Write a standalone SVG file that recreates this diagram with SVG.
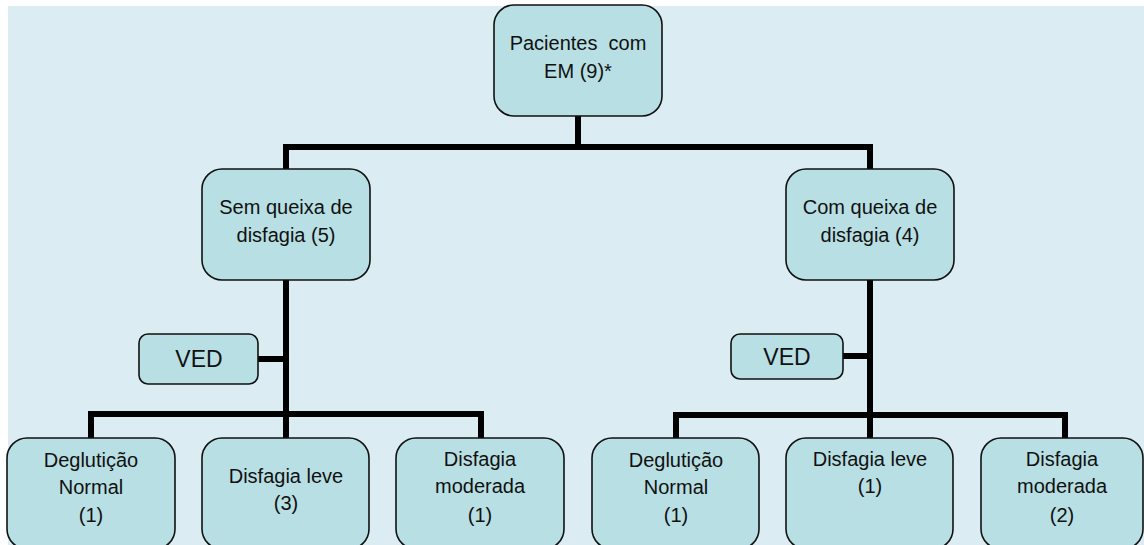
<svg xmlns="http://www.w3.org/2000/svg" width="1144" height="545" viewBox="0 0 1144 545">
<style>
.node{fill:#b8dfe3;stroke:#111;stroke-width:1.6}
.t{font-family:"Liberation Sans",Arial,sans-serif;font-size:20px;fill:#111;text-anchor:middle}
.v{font-family:"Liberation Sans",Arial,sans-serif;font-size:23px;fill:#111;text-anchor:middle}
.c{fill:none;stroke:#000;stroke-width:6;stroke-linecap:square;stroke-linejoin:miter}
</style>
<rect x="0" y="0" width="1144" height="545" fill="#ffffff"/>
<rect x="8" y="6" width="1136" height="539" fill="#dbedf2"/>
<g id="connectors">
<path class="c" d="M578,116 V147"/>
<path class="c" d="M286,169 V147 H870 V169"/>
<path class="c" d="M286,280 V438"/>
<path class="c" d="M258,359 H286"/>
<path class="c" d="M91,438 V414 H481 V438"/>
<path class="c" d="M870,280 V438"/>
<path class="c" d="M843,356 H870"/>
<path class="c" d="M676,438 V415 H1065 V438"/>
</g>
<g id="n-root">
<rect class="node" x="494" y="5" width="168" height="111" rx="20"/>
<text class="t" x="578" y="50" xml:space="preserve">Pacientes  com</text>
<text class="t" x="578" y="78">EM (9)*</text>
</g>
<g id="n-sem">
<rect class="node" x="202" y="169" width="168" height="111" rx="20"/>
<text class="t" x="286" y="214">Sem queixa de</text>
<text class="t" x="286" y="242">disfagia (5)</text>
</g>
<g id="n-com">
<rect class="node" x="786" y="169" width="168" height="111" rx="20"/>
<text class="t" x="870" y="214">Com queixa de</text>
<text class="t" x="870" y="242">disfagia (4)</text>
</g>
<g id="n-ved1">
<rect class="node" x="139" y="334" width="119" height="50" rx="9"/>
<text class="v" x="199" y="367">VED</text>
</g>
<g id="n-ved2">
<rect class="node" x="731" y="334" width="112" height="45" rx="9"/>
<text class="v" x="787" y="365">VED</text>
</g>
<g id="n-l1">
<rect class="node" x="7" y="438" width="168" height="111" rx="20"/>
<text class="t" x="91" y="467">Deglutição</text>
<text class="t" x="91" y="494">Normal</text>
<text class="t" x="91" y="522">(1)</text>
</g>
<g id="n-l2">
<rect class="node" x="202" y="438" width="167" height="111" rx="20"/>
<text class="t" x="286" y="483">Disfagia leve</text>
<text class="t" x="286" y="510">(3)</text>
</g>
<g id="n-l3">
<rect class="node" x="396" y="438" width="168" height="111" rx="20"/>
<text class="t" x="480" y="466">Disfagia</text>
<text class="t" x="480" y="493">moderada</text>
<text class="t" x="480" y="522">(1)</text>
</g>
<g id="n-r1">
<rect class="node" x="592" y="438" width="167" height="111" rx="20"/>
<text class="t" x="676" y="467">Deglutição</text>
<text class="t" x="676" y="494">Normal</text>
<text class="t" x="676" y="522">(1)</text>
</g>
<g id="n-r2">
<rect class="node" x="786" y="438" width="167" height="111" rx="20"/>
<text class="t" x="870" y="466">Disfagia leve</text>
<text class="t" x="870" y="493">(1)</text>
</g>
<g id="n-r3">
<rect class="node" x="981" y="438" width="162" height="111" rx="20"/>
<text class="t" x="1062" y="466">Disfagia</text>
<text class="t" x="1062" y="493">moderada</text>
<text class="t" x="1062" y="522">(2)</text>
</g>
</svg>
